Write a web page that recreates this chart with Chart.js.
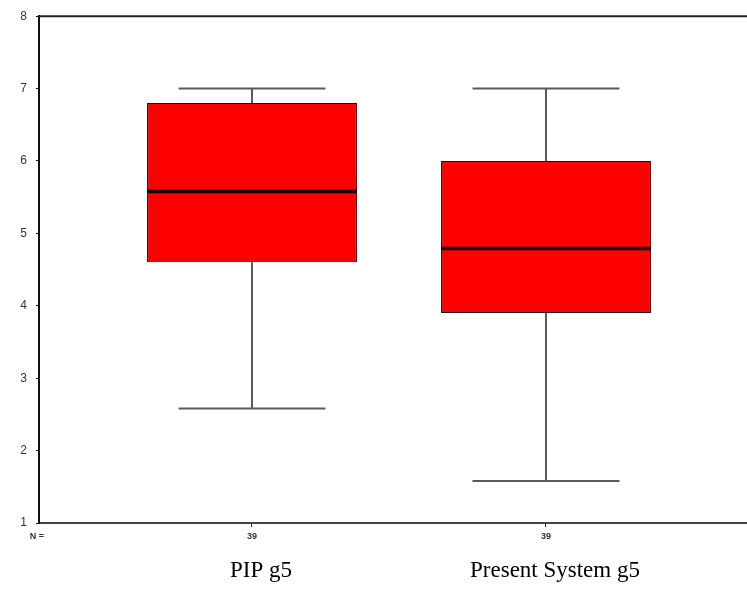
<!DOCTYPE html>
<html>
<head>
<meta charset="utf-8">
<script src="https://cdn.jsdelivr.net/npm/chart.js@4/dist/chart.umd.min.js"></script>
<style>
  body { margin: 0; background: #fff; }
  canvas { display: block; }
</style>
</head>
<body>
<canvas id="chart" width="747" height="594"></canvas>
<script>
// box plot values
let categories = ["PIP g5", "Present System g5"];
let counts = ["39", "39"];
let xPos = [1, 2];
let mins = [2.58, 1.58];
let q1s = [4.6, 3.9];
let medians = [5.58, 4.79];
let q3s = [6.8, 6.0];
let maxs = [7, 7];
let yTicks = [1, 2, 3, 4, 5, 6, 7, 8];

let boxData = xPos.map((x, i) => ({ x: x, y: [q1s[i], q3s[i]] }));

let setTicks = function (scale) {
    scale.ticks = xPos.map(v => ({ value: v }));
};

// whiskers behind the boxes, medians on top
const boxPlot = {
    id: 'boxPlot',
    beforeDatasetsDraw(chart) {
        const ctx = chart.ctx;
        const xs = chart.scales.x;
        const ys = chart.scales.y;
        const bars = chart.getDatasetMeta(0).data;
        ctx.save();
        ctx.strokeStyle = '#5a5a5a';
        ctx.lineWidth = 2;
        xPos.forEach((v, i) => {
            const x = xs.getPixelForValue(v);
            const cap = bars[i].width * 0.35;
            ctx.beginPath();
            ctx.moveTo(x, ys.getPixelForValue(q3s[i]));
            ctx.lineTo(x, ys.getPixelForValue(maxs[i]));
            ctx.moveTo(x, ys.getPixelForValue(q1s[i]));
            ctx.lineTo(x, ys.getPixelForValue(mins[i]));
            ctx.moveTo(x - cap, ys.getPixelForValue(maxs[i]));
            ctx.lineTo(x + cap, ys.getPixelForValue(maxs[i]));
            ctx.moveTo(x - cap, ys.getPixelForValue(mins[i]));
            ctx.lineTo(x + cap, ys.getPixelForValue(mins[i]));
            ctx.stroke();
        });
        ctx.restore();
    },
    afterDatasetsDraw(chart) {
        const ctx = chart.ctx;
        const ys = chart.scales.y;
        const bars = chart.getDatasetMeta(0).data;
        ctx.save();
        ctx.strokeStyle = '#1a0000';
        ctx.lineWidth = 3.5;
        bars.forEach((bar, i) => {
            const y = ys.getPixelForValue(medians[i]);
            ctx.beginPath();
            ctx.moveTo(bar.x - bar.width / 2, y);
            ctx.lineTo(bar.x + bar.width / 2, y);
            ctx.stroke();
        });
        ctx.restore();
    },
    afterDraw(chart) {
        const ctx = chart.ctx;
        const area = chart.chartArea;
        ctx.save();
        ctx.strokeStyle = '#222';
        ctx.lineWidth = 2;
        ctx.beginPath();
        ctx.moveTo(area.left, area.top);
        ctx.lineTo(area.right, area.top);
        ctx.stroke();
        ctx.fillStyle = '#333';
        ctx.font = 'bold 9px Arial';
        ctx.textAlign = 'center';
        ctx.textBaseline = 'middle';
        ctx.fillText('N =', area.left - 2, area.bottom + 14);
        ctx.restore();
    }
};

new Chart(document.getElementById('chart'), {
    type: 'bar',
    data: {
        datasets: [{
            data: boxData,
            backgroundColor: '#ff0000',
            borderColor: '#2a0000',
            borderWidth: 1,
            borderSkipped: false,
            barPercentage: 0.714,
            categoryPercentage: 1
        }]
    },
    options: {
        responsive: false,
        animation: false,
        layout: { padding: { top: 15, left: 0, right: 0, bottom: 0 } },
        plugins: {
            legend: { display: false },
            tooltip: { enabled: false }
        },
        scales: {
            x: {
                type: 'linear',
                position: 'bottom',
                offset: false,
                min: 0.2755,
                max: 2.6837,
                afterBuildTicks: setTicks,
                afterFit: s => { s.height = 20; },
                border: { display: true, color: '#444', width: 2 },
                grid: { offset: false, drawOnChartArea: false, drawTicks: true, tickLength: 4, color: '#222' },
                ticks: {
                    padding: 4,
                    maxRotation: 0,
                    autoSkip: false,
                    color: '#333',
                    font: { family: 'Arial', size: 9, weight: 'bold' },
                    callback: (v, i) => counts[i]
                }
            },
            x2: {
                type: 'linear',
                position: 'bottom',
                offset: false,
                min: 0.2755,
                max: 2.6837,
                afterBuildTicks: setTicks,
                afterFit: s => { s.height = 51; },
                border: { display: false },
                grid: { display: false, offset: false, drawTicks: false },
                ticks: {
                    padding: 14,
                    labelOffset: 9,
                    maxRotation: 0,
                    autoSkip: false,
                    color: '#000',
                    font: { family: "'Liberation Serif', 'Times New Roman', serif", size: 23 },
                    callback: (v, i) => categories[i]
                }
            },
            y: {
                min: 1,
                max: 8,
                afterBuildTicks: s => { s.ticks = yTicks.map(v => ({ value: v })); },
                afterFit: s => { s.width = 39; },
                border: { display: true, color: '#111', width: 2 },
                grid: { drawOnChartArea: false, drawTicks: true, tickLength: 3, color: '#111' },
                ticks: {
                    padding: 9,
                    color: '#333',
                    font: { family: 'Arial', size: 12 }
                }
            }
        }
    },
    plugins: [boxPlot]
});
</script>
</body>
</html>
